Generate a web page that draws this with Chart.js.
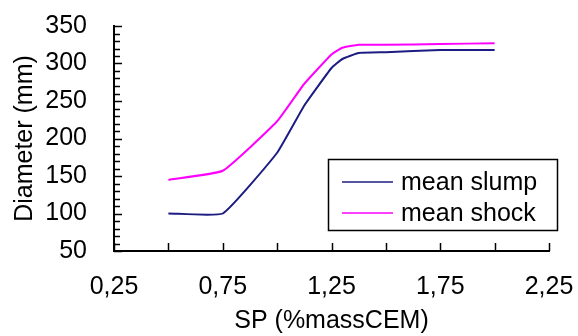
<!DOCTYPE html>
<html>
<head>
<meta charset="utf-8">
<script src="https://cdn.jsdelivr.net/npm/chart.js@4/dist/chart.umd.min.js"></script>
<style>
  html, body { margin: 0; padding: 0; background: #fff; }
  #wrap { width: 578px; height: 336px; }
</style>
</head>
<body>
<div id="wrap"><canvas id="chart"></canvas></div>
<script>
const spValues = [0.5, 0.75, 1.0, 1.125, 1.25, 1.3, 1.375, 1.5, 1.75, 2.0];
const meanSlump = [100, 100, 181, 244, 294, 306, 314, 315, 318, 318];
const meanShock = [145, 157, 223, 273, 312, 321, 325, 325, 326, 327];

const xLabelTicks = [0.25, 0.75, 1.25, 1.75, 2.25];
const xTickMarks = [0.25, 0.5, 0.75, 1.0, 1.25, 1.5, 1.75, 2.0, 2.25];
const yLabelTicks = [50, 100, 150, 200, 250, 300, 350];
const yTickMarks = [50, 60, 70, 80, 90, 100, 110, 120, 130, 140, 150, 160, 170, 180, 190, 200,
  210, 220, 230, 240, 250, 260, 270, 280, 290, 300, 310, 320, 330, 340, 350];

const FONT = "'Liberation Sans', Arial, sans-serif";

const toPoints = (xs, ys) => xs.map((x, i) => ({ x: x, y: ys[i] }));

// small tick marks pointing into the plot
const tickMarks = {
  id: "tickMarks",
  afterDraw(chart) {
    const ctx = chart.ctx;
    const x = chart.scales.x;
    const y = chart.scales.y;
    ctx.save();
    ctx.strokeStyle = "#000";
    ctx.lineWidth = 1.5;
    yTickMarks.forEach((v) => {
      const py = Math.round(y.getPixelForValue(v)) + 0.5;
      const len = v % 50 === 0 ? 8 : 6;
      ctx.beginPath();
      ctx.moveTo(x.left, py);
      ctx.lineTo(x.left + len, py);
      ctx.stroke();
    });
    xTickMarks.forEach((v) => {
      const px = Math.round(x.getPixelForValue(v)) + 0.5;
      ctx.beginPath();
      ctx.moveTo(px, y.bottom);
      ctx.lineTo(px, y.bottom - 8);
      ctx.stroke();
    });
    ctx.restore();
  },
};

// boxed legend inside the plot
const boxLegend = {
  id: "boxLegend",
  afterDraw(chart) {
    const ctx = chart.ctx;
    const left = 328, top = 159, w = 229, h = 71;
    ctx.save();
    ctx.fillStyle = "#fff";
    ctx.fillRect(left, top, w, h);
    ctx.strokeStyle = "#000";
    ctx.lineWidth = 1.5;
    ctx.strokeRect(left + 0.5, top + 0.5, w, h);
    ctx.font = "25px " + FONT;
    ctx.textBaseline = "middle";
    chart.data.datasets.forEach((ds, i) => {
      const cy = top + 23 + i * 31;
      ctx.strokeStyle = ds.borderColor;
      ctx.lineWidth = 1.5;
      ctx.beginPath();
      ctx.moveTo(left + 14, cy);
      ctx.lineTo(left + 65, cy);
      ctx.stroke();
      ctx.fillStyle = "#000";
      ctx.fillText(ds.label, left + 73, cy + 1);
    });
    ctx.restore();
  },
};

new Chart(document.getElementById("chart"), {
  type: "line",
  data: {
    datasets: [
      {
        label: "mean slump",
        data: toPoints(spValues, meanSlump),
        borderColor: "#1c1c82",
        borderWidth: 2,
        pointRadius: 0,
        tension: 0.12,
        fill: false,
      },
      {
        label: "mean shock",
        data: toPoints(spValues, meanShock),
        borderColor: "#ff00ff",
        borderWidth: 2,
        pointRadius: 0,
        tension: 0.12,
        fill: false,
      },
    ],
  },
  options: {
    responsive: true,
    maintainAspectRatio: false,
    animation: false,
    layout: { padding: { top: 26, right: 29, left: 0, bottom: 0 } },
    plugins: {
      legend: { display: false },
      tooltip: { enabled: false },
    },
    scales: {
      x: {
        type: "linear",
        min: 0.25,
        max: 2.25,
        afterBuildTicks: (scale) => {
          scale.ticks = xLabelTicks.map((v) => ({ value: v }));
        },
        afterFit: (scale) => {
          scale.height = 85;
          scale.paddingLeft = 0;
          scale.paddingRight = 0;
        },
        grid: { display: true, drawOnChartArea: false, drawTicks: false },
        border: { display: true, color: "#000", width: 2 },
        ticks: {
          color: "#000",
          padding: 21,
          maxRotation: 0,
          autoSkip: false,
          font: { family: FONT, size: 25 },
          callback: (v) => Number(v).toFixed(2).replace(".", ","),
        },
        title: {
          display: true,
          text: "SP (%massCEM)",
          color: "#000",
          padding: { top: 6, bottom: 0 },
          font: { family: FONT, size: 25 },
        },
      },
      y: {
        min: 50,
        max: 350,
        afterBuildTicks: (scale) => {
          scale.ticks = yLabelTicks.map((v) => ({ value: v }));
        },
        afterFit: (scale) => {
          scale.width = 114;
          scale.paddingTop = 0;
          scale.paddingBottom = 0;
        },
        grid: { display: true, drawOnChartArea: false, drawTicks: false },
        border: { display: true, color: "#000", width: 2 },
        ticks: {
          color: "#000",
          padding: 27,
          autoSkip: false,
          font: { family: FONT, size: 25 },
        },
        title: {
          display: true,
          text: "Diameter (mm)",
          color: "#000",
          padding: { top: 10, bottom: 0 },
          font: { family: FONT, size: 25 },
        },
      },
    },
  },
  plugins: [tickMarks, boxLegend],
});
</script>
</body>
</html>
